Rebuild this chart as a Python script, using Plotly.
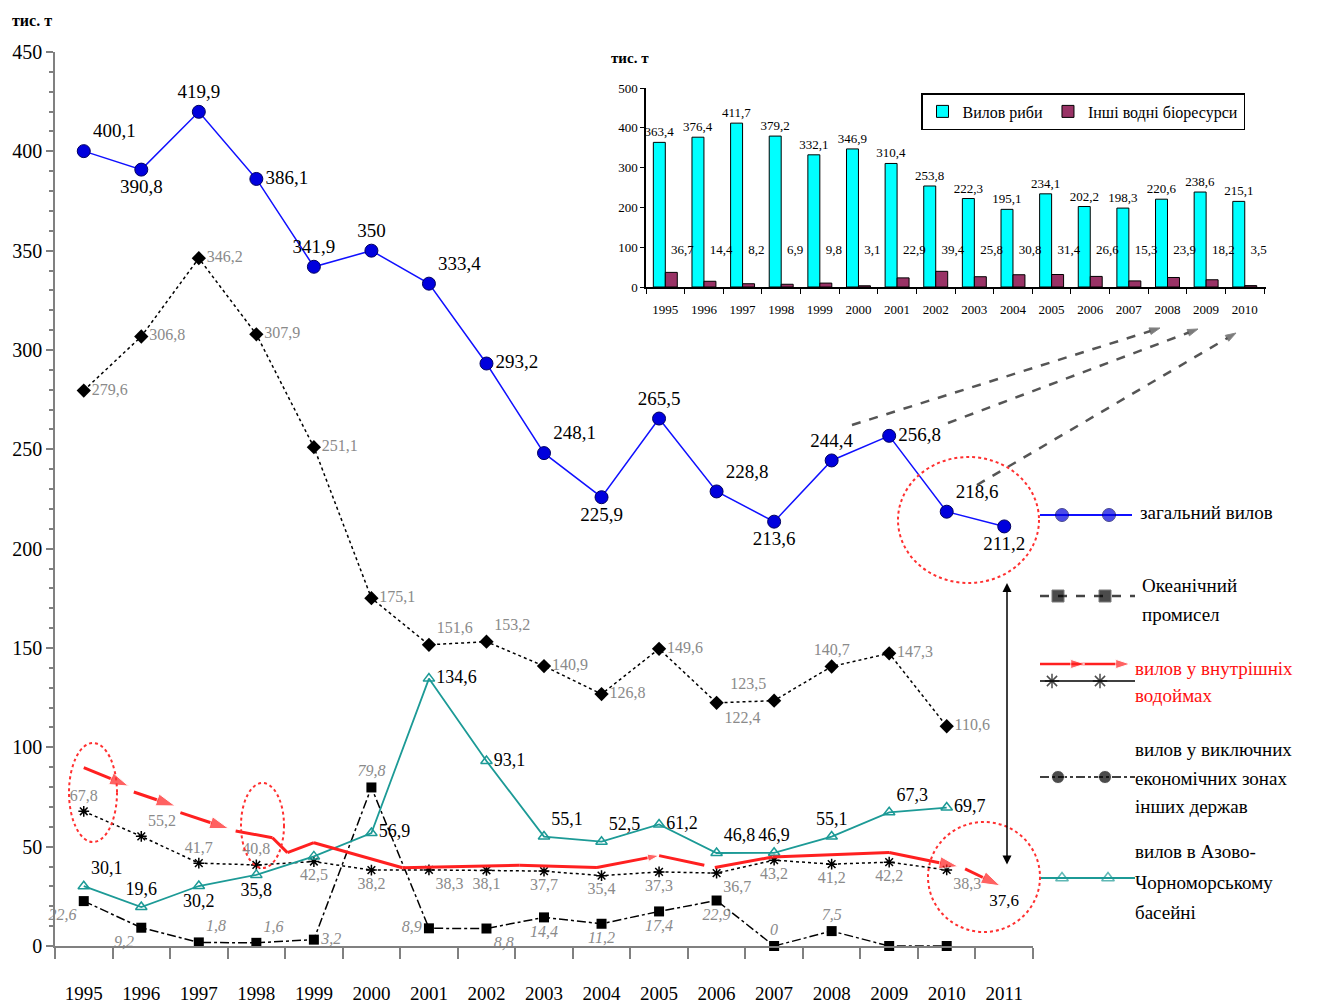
import plotly.graph_objects as go

# ---------------- data ----------------
YEARS = list(range(1995, 2012))          # main chart categories
YEARS_INSET = list(range(1995, 2011))    # inset categories

total = [400.1, 390.8, 419.9, 386.1, 341.9, 350.0, 333.4, 293.2, 248.1, 225.9,
         265.5, 228.8, 213.6, 244.4, 256.8, 218.6, 211.2]
ocean = [22.6, 9.2, 1.8, 1.6, 3.2, 79.8, 8.9, 8.8, 14.4, 11.2, 17.4, 22.9, 0.0,
         7.5, 0.0, 0.0]
eez = [279.6, 306.8, 346.2, 307.9, 251.1, 175.1, 151.6, 153.2, 140.9, 126.8,
       149.6, 122.4, 123.5, 140.7, 147.3, 110.6]
inland = [67.8, 55.2, 41.7, 40.8, 42.5, 38.2, 38.3, 38.1, 37.7, 35.4, 37.3,
          36.7, 43.2, 41.2, 42.2, 38.3, 37.6]
azov = [30.1, 19.6, 30.2, 35.8, 45.1, 56.9, 134.6, 93.1, 55.1, 52.5, 61.2,
        46.8, 46.9, 55.1, 67.3, 69.7]

# red hand-drawn trend of inland catch (year position, value)
red_x = [1995.0, 1995.78, None, 1995.87, 1996.59, None, 1996.68, 1997.52, None,
         1997.64, 1998.28, 1998.54, 1999.0, 2000.54, 2002.57, 2003.92, 2005.0,
         2005.97, 2006.97, 2009.0, 2010.2, None, 2010.32, 2010.93]
red_y = [89.8, 80.5, None, 77.5, 70.5, None, 67.1, 59.1, None,
         57.9, 54.5, 47.0, 52.0, 39.4, 40.6, 39.5, 45.5,
         39.5, 44.8, 47.1, 40.0, None, 38.8, 30.3]
red_tips = {1: 20, 4: 20, 7: 20, 16: 12, 20: 20, 23: 20}

fish = [363.4, 376.4, 411.7, 379.2, 332.1, 346.9, 310.4, 253.8, 222.3, 195.1,
        234.1, 202.2, 198.3, 220.6, 238.6, 215.1]
other = [36.7, 14.4, 8.2, 6.9, 9.8, 3.1, 22.9, 39.4, 25.8, 30.8, 31.4, 26.6,
         15.3, 23.9, 18.2, 3.5]

ocean_hidden = {2009, 2010}
azov_hidden = {1999}

SERIF = "Liberation Serif"
GRAY = "#8a8a8a"
TEAL = "#1c9a96"


def fmt(v):
    return ("%g" % v).replace(".", ",")


total_pos = ["top right", "bottom center", "top center", "middle right", "top center",
             "top center", "top right", "middle right", "top right", "bottom center",
             "top center", "top right", "bottom center", "top center", "middle right",
             "top right", "bottom center"]
eez_pos = ["middle right"] * 6 + ["top right", "top right", "middle right", "middle right",
                                  "middle right", "bottom right", "top left", "top center",
                                  "middle right", "middle right"]
inland_pos = ["top center", "top right", "top center", "top center", "bottom center",
              "bottom center", "bottom right", "bottom center", "bottom center",
              "bottom center", "bottom center", "bottom right", "bottom center",
              "bottom center", "bottom center", "bottom right"]
ocean_pos = ["bottom left", "bottom left", "top right", "top right", "middle right",
             "top center", "middle left", "bottom right", "bottom center", "bottom center",
             "bottom center", "bottom center", "top center", "top center",
             "top center", "top center"]
azov_pos = ["top right", "top center", "bottom center", "bottom center", "top center",
            "middle right", "middle right", "middle right", "top right", "top right",
            "middle right", "top right", "top center", "top center", "top right",
            "middle right"]

fig = go.Figure()

# ---------------- main chart ----------------
fig.add_trace(go.Scatter(
    x=YEARS[:len(ocean)], y=ocean, mode="lines+markers+text",
    line=dict(color="black", width=1.5, dash="dashdot"),
    marker=dict(symbol="square", size=10, color="black"),
    text=["" if y in ocean_hidden else fmt(v) for y, v in zip(YEARS, ocean)],
    textposition=ocean_pos,
    textfont=dict(family=SERIF, size=16, color=GRAY, style="italic"),
    cliponaxis=False, showlegend=False, hoverinfo="skip"))

fig.add_trace(go.Scatter(
    x=YEARS[:len(eez)], y=eez, mode="lines+markers+text",
    line=dict(color="black", width=1.5, dash="dot"),
    marker=dict(symbol="diamond", size=11, color="black"),
    text=[fmt(v) for v in eez], textposition=eez_pos,
    textfont=dict(family=SERIF, size=16, color=GRAY),
    cliponaxis=False, showlegend=False, hoverinfo="skip"))

fig.add_trace(go.Scatter(
    x=YEARS[:16], y=inland[:16], mode="lines+markers+text",
    line=dict(color="black", width=1.5, dash="dot"),
    marker=dict(symbol="asterisk-open", size=9, line=dict(color="black", width=1.5)),
    text=[fmt(v) for v in inland[:16]], textposition=inland_pos,
    textfont=dict(family=SERIF, size=16, color=GRAY),
    cliponaxis=False, showlegend=False, hoverinfo="skip"))

# 2011 inland value: label only (point hidden under the red arrow tip)
fig.add_trace(go.Scatter(
    x=YEARS[16:], y=inland[16:], mode="markers+text",
    marker=dict(size=34, color="rgba(0,0,0,0)"),
    text=[fmt(v) for v in inland[16:]], textposition="bottom center",
    textfont=dict(family=SERIF, size=17, color="black"),
    cliponaxis=False, showlegend=False, hoverinfo="skip"))

fig.add_trace(go.Scatter(
    x=YEARS[:len(azov)], y=azov, mode="lines+markers+text",
    line=dict(color=TEAL, width=1.8),
    marker=dict(symbol="triangle-up-open", size=10, color=TEAL, line=dict(width=1.5)),
    text=["" if y in azov_hidden else fmt(v) for y, v in zip(YEARS, azov)],
    textposition=azov_pos,
    textfont=dict(family=SERIF, size=18, color="black"),
    cliponaxis=False, showlegend=False, hoverinfo="skip"))

fig.add_trace(go.Scatter(
    x=red_x, y=red_y, mode="lines+markers",
    line=dict(color="#ff2020", width=3),
    marker=dict(symbol="arrow", angleref="previous", color="#ff2020",
                size=[red_tips.get(i, 0) for i in range(len(red_x))]),
    connectgaps=False, cliponaxis=False, showlegend=False, hoverinfo="skip"))

fig.add_trace(go.Scatter(
    x=YEARS, y=total, mode="lines+markers+text",
    line=dict(color="#1010ff", width=1.5),
    marker=dict(symbol="circle", size=13, color="#0000dd", line=dict(color="#000060", width=1)),
    text=[fmt(v) for v in total], textposition=total_pos,
    textfont=dict(family=SERIF, size=19, color="black"),
    cliponaxis=False, showlegend=False, hoverinfo="skip"))

# ---------------- inset bar chart ----------------
fig.add_trace(go.Bar(
    x=YEARS_INSET, y=fish, name="Вилов риби", xaxis="x2", yaxis="y2",
    marker=dict(color="#00ffff", line=dict(color="black", width=1)),
    text=[fmt(v) for v in fish], textposition="outside", constraintext="none",
    textfont=dict(family=SERIF, size=13, color="black"), cliponaxis=False,
    hoverinfo="skip"))
fig.add_trace(go.Bar(
    x=YEARS_INSET, y=other, name="Інші водні біоресурси", xaxis="x2", yaxis="y2",
    marker=dict(color="#993366", line=dict(color="black", width=1)),
    hoverinfo="skip"))
OTHER_LABEL_Y = 92
fig.add_trace(go.Scatter(
    x=[y + 0.15 for y in YEARS_INSET], y=[OTHER_LABEL_Y] * len(other),
    xaxis="x2", yaxis="y2", mode="text",
    text=[fmt(v) for v in other], textposition="middle right",
    textfont=dict(family=SERIF, size=13, color="black"),
    cliponaxis=False, showlegend=False, hoverinfo="skip"))

# ---------------- decorations & custom legend (pixel overlay x3/y3) ----------------
def ov(x, y, **kw):
    fig.add_trace(go.Scatter(x=x, y=y, xaxis="x3", yaxis="y3", showlegend=False,
                             hoverinfo="skip", cliponaxis=False, **kw))

# dashed gray arrows to inset
for (x0, y0, x1, y1) in [(852, 425, 1160, 328), (948, 423, 1198, 329), (977, 485, 1236, 333)]:
    ov([x0, x1], [y0, y1], mode="lines+markers",
       line=dict(color="#555555", width=2.5, dash="dash"),
       marker=dict(symbol="arrow", angleref="previous", size=[0, 11], color="#444444"))

# legend samples
ov([1040, 1062, 1109, 1132], [515] * 4, mode="lines+markers",
   line=dict(color="#1010ff", width=2),
   marker=dict(symbol="circle", size=[0, 13, 13, 0], color="#0000dd",
               line=dict(color="#000060", width=1)))
ov([1040, 1058, 1105, 1135], [596] * 4, mode="lines+markers",
   line=dict(color="#444444", width=2.5, dash="dash"),
   marker=dict(symbol="square", size=[0, 12, 12, 0], color="black"))
ov([1040, 1085, 1130], [664] * 3, mode="lines+markers",
   line=dict(color="#ff2020", width=2.5),
   marker=dict(symbol="arrow", angleref="previous", size=[0, 15, 15], color="#ff2020"))
ov([1040, 1052, 1100, 1135], [681] * 4, mode="lines+markers",
   line=dict(color="black", width=1.5),
   marker=dict(symbol="asterisk-open", size=[0, 12, 12, 0], line=dict(color="black", width=1.5)))
ov([1040, 1058, 1105, 1135], [777] * 4, mode="lines+markers",
   line=dict(color="black", width=1.5, dash="dashdot"),
   marker=dict(symbol="circle", size=[0, 13, 13, 0], color="black"))
ov([1040, 1062, 1108, 1135], [878] * 4, mode="lines+markers",
   line=dict(color=TEAL, width=2),
   marker=dict(symbol="triangle-up-open", size=[0, 11, 11, 0], color=TEAL, line=dict(width=1.5)))

legend_text = [
    ("загальний вилов", 1138, 512, "black"),
    ("Океанічний", 1140, 585, "black"),
    ("промисел", 1140, 614, "black"),
    ("вилов у внутрішніх", 1133, 668, "#ff1010"),
    ("водоймах", 1133, 695, "#ff1010"),
    ("вилов у виключних", 1133, 749, "black"),
    ("економічних зонах", 1133, 778, "black"),
    ("інших держав", 1133, 806, "black"),
    ("вилов в Азово-", 1133, 851, "black"),
    ("Чорноморському", 1133, 882, "black"),
    ("басейні", 1133, 912, "black"),
]
annotations = []
for t, x, y, c in legend_text:
    annotations.append(dict(text=t, x=x, y=y, xref="x3", yref="y3", xanchor="left",
                            yanchor="middle", showarrow=False,
                            font=dict(family=SERIF, size=19, color=c)))

# unit labels
annotations.append(dict(text="<b>тис. т</b>", x=10, y=21, xref="x3", yref="y3",
                        xanchor="left", yanchor="middle", showarrow=False,
                        font=dict(family=SERIF, size=16, color="black")))
annotations.append(dict(text="<b>тис. т</b>", x=609, y=58, xref="x3", yref="y3",
                        xanchor="left", yanchor="middle", showarrow=False,
                        font=dict(family=SERIF, size=15, color="black")))
# vertical double arrow
annotations.append(dict(x=1007, y=583, ax=1007, ay=866, xref="x3", yref="y3",
                        axref="x3", ayref="y3", showarrow=True, arrowhead=2,
                        arrowside="end+start", arrowsize=1.2, arrowwidth=1.5,
                        arrowcolor="black", text=""))

shapes = []
for (x0, y0, x1, y1) in [(69, 743, 117, 842), (241, 783, 284, 868),
                         (898, 457, 1039, 583), (928, 822, 1040, 932)]:
    shapes.append(dict(type="circle", xref="x3", yref="y3", x0=x0, y0=y0, x1=x1, y1=y1,
                       line=dict(color="#ff3030", width=2, dash="dot")))

# ---------------- layout ----------------
# the page body adds an 8px offset; everything below is in screenshot pixels
PAGE_OFF = 8
SCREEN_W, SCREEN_H = 1317, 1007
PX_L, PX_R, PX_T, PX_B = 55, 1297, 52, 946     # plot area in screenshot pixels
W, H = SCREEN_W - PAGE_OFF, SCREEN_H - PAGE_OFF
ML = PX_L - PAGE_OFF
MT = PX_T - PAGE_OFF
MR = W - (PX_R - PAGE_OFF)
MB = H - (PX_B - PAGE_OFF)
PW = PX_R - PX_L
PH = PX_B - PX_T


def dx(px):
    return (px - PX_L) / PW


def dy(py):
    return (PX_B - py) / PH


# annotations outside the overlay range -> paper refs
for a in annotations:
    if a.get("xref") == "x3" and (a["x"] < PX_L or a["y"] < PX_T):
        a["xref"], a["yref"] = "paper", "paper"
        a["x"], a["y"] = dx(a["x"]), dy(a["y"])

fig.update_layout(
    width=W, height=H,
    margin=dict(l=ML, r=MR, t=MT, b=MB, autoexpand=False),
    paper_bgcolor="white", plot_bgcolor="rgba(0,0,0,0)",
    font=dict(family=SERIF, color="black"),
    barmode="group", bargap=0.38, bargroupgap=0,
    xaxis=dict(domain=[0, dx(1033)], range=[1994.5, 2011.5], anchor="y", automargin=False,
               tickvals=YEARS, ticktext=[str(y) for y in YEARS], ticks="",
               tickfont=dict(family=SERIF, size=19), ticklabelstandoff=29,
               showline=True, linecolor="#808080", linewidth=1.5,
               showgrid=False, zeroline=False,
               minor=dict(tick0=1994.5, dtick=1, ticks="outside", ticklen=11,
                          tickcolor="#808080", tickwidth=1.5, showgrid=False)),
    yaxis=dict(domain=[0, 1], range=[0, 450], anchor="x", dtick=50, automargin=False,
               ticks="outside", ticklen=7, tickcolor="#808080", tickwidth=1.5,
               tickfont=dict(family=SERIF, size=20),
               showline=True, linecolor="#808080", linewidth=1.5,
               showgrid=False, zeroline=False,
               minor=dict(dtick=10, ticks="outside", ticklen=4, tickcolor="#808080",
                          showgrid=False)),
    xaxis2=dict(domain=[dx(646), dx(1266)], range=[1994.5, 2010.55], anchor="y2",
                automargin=False,
                tickvals=YEARS_INSET, ticktext=[str(y) for y in YEARS_INSET], ticks="",
                tickfont=dict(family=SERIF, size=13), ticklabelstandoff=10,
                showline=True, linecolor="black", linewidth=1.5,
                showgrid=False, zeroline=False,
                minor=dict(tick0=1994.5, dtick=1, ticks="outside", ticklen=5,
                           tickcolor="black", showgrid=False)),
    yaxis2=dict(domain=[dy(287), dy(88)], range=[0, 500], anchor="x2", dtick=100,
                automargin=False,
                ticks="outside", ticklen=4, tickcolor="black",
                tickfont=dict(family=SERIF, size=13),
                showline=True, linecolor="black", linewidth=1.5,
                showgrid=False, zeroline=False),
    xaxis3=dict(domain=[0, 1], range=[PX_L, PX_R], anchor="y3", visible=False,
                fixedrange=True, automargin=False),
    yaxis3=dict(domain=[0, 1], range=[PX_B, PX_T], anchor="x3", visible=False,
                fixedrange=True, automargin=False),
    legend=dict(x=dx(921), y=dy(93), xanchor="left", yanchor="top",
                orientation="h", bgcolor="white", bordercolor="black", borderwidth=1.5,
                font=dict(family=SERIF, size=16, color="black"),
                itemwidth=30, tracegroupgap=0),
    annotations=annotations,
    shapes=shapes,
)

fig.write_html("out.html")
